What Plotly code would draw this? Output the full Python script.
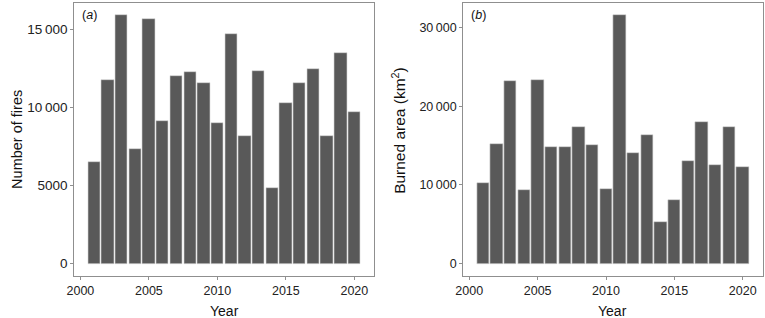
import plotly.graph_objects as go

years = list(range(2001, 2021))
fires = [6540, 11770, 15900, 7340, 15670, 9120, 12010, 12260, 11580, 8980,
         14740, 8150, 12330, 4850, 10290, 11560, 12450, 8200, 13470, 9740]
burned = [10300, 15220, 23200, 9290, 23370, 14750, 14750, 17310, 15040, 9420,
          31530, 14000, 16350, 5260, 8070, 12990, 18030, 12520, 17320, 12270]

x_ticks = [2000, 2005, 2010, 2015, 2020]
left_ticks = [0, 5000, 10000, 15000]
left_ticklabels = ["0", "5000", "10\u2009000", "15\u2009000"]
right_ticks = [0, 10000, 20000, 30000]
right_ticklabels = ["0", "10\u2009000", "20\u2009000", "30\u2009000"]

bar_color = "#595959"
frame_color = "#8f8f8f"
font = "Liberation Sans, Arial, sans-serif"

fig = go.Figure()
fig.add_trace(go.Bar(x=years, y=fires, width=0.9,
                     marker=dict(color=bar_color, line=dict(color="#d9d9d9", width=0.6)),
                     xaxis="x", yaxis="y", showlegend=False))
fig.add_trace(go.Bar(x=years, y=burned, width=0.9,
                     marker=dict(color=bar_color, line=dict(color="#d9d9d9", width=0.6)),
                     xaxis="x2", yaxis="y2", showlegend=False))

ydom = [1 - 276 / 318, 1 - 3 / 318]
common_x = dict(range=[1999.555, 2021.445], tickvals=x_ticks, ticks="outside", ticklen=3,
                tickcolor=frame_color, showline=True, linecolor=frame_color, linewidth=1, mirror=True,
                showgrid=False, zeroline=False, tickfont=dict(size=12.5, color="#222", family=font))
common_y = dict(ticks="outside", ticklen=3, tickcolor=frame_color, showline=True, linecolor=frame_color,
                linewidth=1, mirror=True, showgrid=False, zeroline=False)

title_font = dict(size=14, family=font, color="#111")

fig.update_layout(
    width=765, height=318,
    margin=dict(l=0, r=0, t=0, b=0),
    paper_bgcolor="white", plot_bgcolor="white",
    font=dict(family=font, color="#111"),
    bargap=0,
    xaxis=dict(domain=[67 / 765, 370 / 765], anchor="y", **common_x),
    yaxis=dict(domain=ydom, anchor="x", range=[-795, 16695], tickvals=left_ticks,
               ticktext=left_ticklabels, tickfont=dict(size=13.5, color="#222", family=font), **common_y),
    xaxis2=dict(domain=[460 / 765, 762.5 / 765], anchor="y2", **common_x),
    yaxis2=dict(domain=ydom, anchor="x2", range=[-1577, 33107], tickvals=right_ticks,
                ticktext=right_ticklabels, tickfont=dict(size=12.5, color="#222", family=font), **common_y),
    annotations=[
        dict(text="Year", x=(67 + 370) / 2 / 765, y=1 - 310.5 / 318, xref="paper", yref="paper",
             showarrow=False, font=title_font, xanchor="center", yanchor="middle"),
        dict(text="Year", x=(460 + 762.5) / 2 / 765, y=1 - 310.5 / 318, xref="paper", yref="paper",
             showarrow=False, font=title_font, xanchor="center", yanchor="middle"),
        dict(text="Number of fires", x=9 / 765, y=1 - 139 / 318, xref="paper", yref="paper", textangle=-90,
             showarrow=False, font=dict(size=14.5, family=font, color="#111"),
             xanchor="center", yanchor="middle"),
        dict(text="Burned area (km<sup>2</sup>)", x=395 / 765, y=1 - 130 / 318, xref="paper", yref="paper",
             textangle=-90, showarrow=False, font=dict(size=15.5, family=font, color="#111"),
             xanchor="center", yanchor="middle"),
        dict(text="(<i>a</i>)", x=73 / 765, y=1 - 15 / 318, xref="paper", yref="paper",
             showarrow=False, font=dict(size=12.5, family=font, color="#111"), xanchor="left", yanchor="middle"),
        dict(text="(<i>b</i>)", x=466 / 765, y=1 - 15 / 318, xref="paper", yref="paper",
             showarrow=False, font=dict(size=12.5, family=font, color="#111"), xanchor="left", yanchor="middle"),
    ],
)

fig.write_html("out.html", config={"displayModeBar": False},
               post_script="document.body.style.margin='0';document.body.style.overflow='hidden';")
